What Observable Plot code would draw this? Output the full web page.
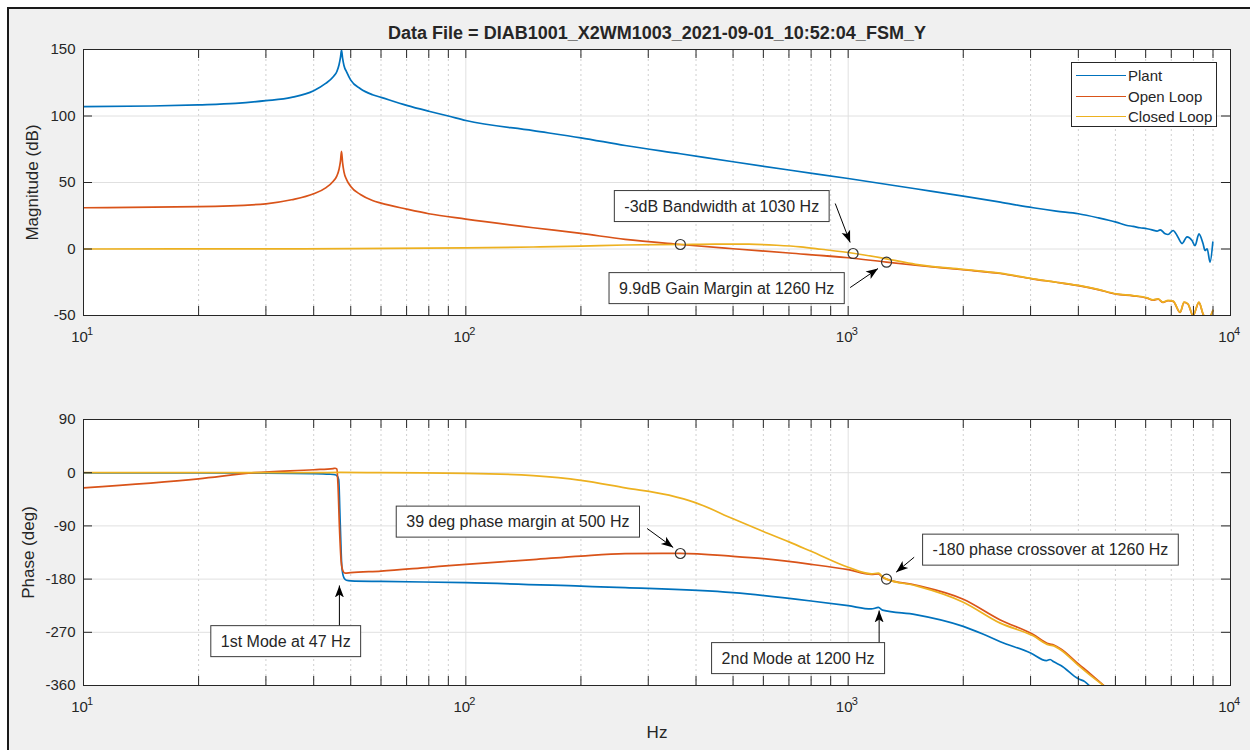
<!DOCTYPE html>
<html><head><meta charset="utf-8">
<script src="https://cdn.jsdelivr.net/npm/d3@7"></script>
<script src="https://cdn.jsdelivr.net/npm/@observablehq/plot@0.6"></script>
<style>
html,body{margin:0;padding:0;background:#fff;}
#fig{position:relative;width:1250px;height:750px;overflow:hidden;background:#fff;font-family:"Liberation Sans",Arial,Helvetica,sans-serif;color:#262626;}
#bg{position:absolute;left:7px;top:7px;width:1260px;height:760px;background:#f0f0f0;border-left:2px solid #1a1a1a;border-top:2px solid #1a1a1a;}
.panel{position:absolute;left:0;width:1250px;height:370px;}
#legend{position:absolute;left:1071px;top:62px;width:144px;height:63px;background:#fff;border:1px solid #262626;font-size:15px;}
#legend .row{position:absolute;left:0;height:20px;width:144px;}
#legend .sw{position:absolute;left:4px;top:9px;width:50px;height:0;border-top:1.5px solid;}
#legend .lab{position:absolute;left:56px;top:1px;line-height:17px;white-space:nowrap;}
</style></head>
<body>
<div id="fig">
  <div id="bg"></div>
  <div id="top" class="panel" style="top:0px"></div>
  <div id="bot" class="panel" style="top:370px"></div>
  <div id="legend"></div>
</div>
<script>
// ---------------- data ----------------
const TITLE = "Data File = DIAB1001_X2WM1003_2021-09-01_10:52:04_FSM_Y";
const seriesNames = ["Plant", "Open Loop", "Closed Loop"];
const seriesColors = ["#0072BD", "#D95319", "#EDB120"];

const decades = [10, 100, 1000, 10000];
const decadeExp = ["1", "2", "3", "4"];
const minorHz = [20,30,40,50,60,70,80,90,200,300,400,500,600,700,800,900,2000,3000,4000,5000,6000,7000,8000,9000];
const magTicks = [-50, 0, 50, 100, 150];
const phaseTicks = [-360, -270, -180, -90, 0, 90];

// Magnitude (dB)
const plantMagHz = [10,15,20,25,30,35,40,43,45,46,46.6,47,47.3,47.6,48,48.8,50,53,57,60,70,80,90,100,150,200,261,364,500,700,1000,1500,2000,2500,3048,3500,4000,4500,5020,5363,5560,5797,6050,6234,6425,6550,6750,6864,7080,7247,7470,7697,7931,8077,8270,8474,8577,8690,8840,8990];
const plantMagDb = [107,107.5,108.4,109.5,111.5,114,119,124.5,129.5,133.5,138.5,144,149.5,143.5,138,133,127,120.5,116,114,108,103.6,100,96.6,89,83.6,77.8,71.6,65.6,59.4,53,45.3,39.8,35.2,31,28.5,26.5,23.5,20.2,17.7,17,16,15.2,14.4,13.4,14.4,11.4,10.9,13.9,10.2,4.1,9.1,6.4,2.6,11.4,4.1,-1.1,0.2,-9.9,5.1];

const openMagHz = [10,20,30,35,40,43,45,46,46.6,47,47.3,47.6,48,48.8,50,53,57,60,70,80,100,150,200,261,364,500,700,1000,1260,1500,2000,2500,3048,3500,4000,4500,5020,5560,6050,6272,6465,6662,6864,7080,7380,7560,7740,7980,8270,8474,8690,8990];
const openMagDb = [31,31.8,34,37,41.5,46,51,55,60,66,73.5,65,58,52,47,41,36.5,34.5,30,26.5,22.5,16,11.7,7.2,3.4,0.2,-3.0,-6.6,-9.9,-12.2,-15.6,-18.4,-22.6,-25,-27.6,-30.5,-33.9,-35.2,-36.9,-38.4,-37.7,-40.2,-38.9,-39.4,-47.7,-40.2,-41.4,-50.2,-40.2,-48.9,-54,-46.4];

const closedMagHz = [10,30,50,100,150,200,261,364,450,550,650,750,850,1030,1260,1500,2000,2500,3048,3500,4000,4500,5020,5560,6050,6272,6465,6662,6864,7080,7380,7560,7740,7980,8270,8474,8690,8990];
const closedMagDb = [0,0.1,0.3,0.8,1.5,2.2,3.0,3.4,3.7,3.6,2.8,1.6,-0.2,-3.2,-7.4,-11.5,-15.3,-18.2,-22.4,-25,-27.4,-30.4,-33.7,-35,-36.7,-38.2,-37.5,-40,-38.7,-39.2,-47.5,-40,-41.2,-50,-40,-48.7,-53.8,-46.2];

// Phase (deg)
const plantPhHz = [10,20,30,40,44,45.5,46.0,46.5,46.9,47.4,48.0,48.7,50,60,100,200,261,500,800,1000,1150,1200,1230,1500,2000,2250,2500,3000,3300,3373,3450,3600,4000,4150,4300];
const plantPhDeg = [-0.5,-0.5,-0.7,-1.5,-2.5,-3.5,-5,-12,-80,-160,-178,-182,-183,-184,-186,-192,-194.5,-203,-217,-225,-230.5,-228,-232.5,-240,-260,-273,-286,-305,-318,-316,-320,-326,-348.7,-353,-362];

const openPhHz = [10,20,28,40,45,45.5,46.0,46.3,46.7,47.2,47.7,48.3,50,60,80,100,150,200,261,364,500,600,800,1000,1150,1200,1230,1260,1500,2000,2500,3048,3350,3450,3600,4000,4300,4700];
const openPhDeg = [-25.6,-10.4,0,5,7,7.5,6,-20,-90,-150,-166,-170,-169,-166.5,-160,-155,-147,-141,-137,-136.5,-141.5,-145.5,-155,-164,-172,-171,-177,-180,-190,-214,-249,-273.7,-289.5,-291.5,-298,-323.4,-340.3,-362];

const closedPhHz = [10,40,47,60,100,150,200,261,340,400,500,600,700,800,1000,1150,1200,1230,1260,1500,2000,2500,3048,3350,3450,3600,4000,4300,4700];
const closedPhDeg = [0,0,0.5,0,-1,-5,-13,-25.6,-38,-51,-78,-99.5,-117,-133,-160,-171,-170,-176,-180,-191,-219,-254.5,-276,-291.5,-293,-300,-326,-343,-362];

// Annotations (data coordinates)
const magNoteText = ["-3dB Bandwidth at 1030 Hz", "9.9dB Gain Margin at 1260 Hz"];
const magNoteHz = [467, 481];
const magNoteDb = [32.0, -29.7];
const magArrowFromHz = [925, 1012], magArrowFromDb = [34.2, -29];
const magArrowToHz = [1012, 1197], magArrowToDb = [4.9, -14.7];
const magMarkHz = [364, 1030, 1260], magMarkDb = [3.4, -3.4, -9.9];

const phNoteText = ["39 deg phase margin at 500 Hz", "-180 phase crossover at 1260 Hz", "1st Mode at 47 Hz", "2nd Mode at 1200 Hz"];
const phNoteHz = [136.8, 3381, 33.8, 739.6];
const phNoteDeg = [-83.4, -130.8, -285.6, -314.3];
const phArrowFromHz = [298, 1488, 46.7, 1205], phArrowFromDeg = [-94.4, -143, -261.9, -289];
const phArrowToHz = [348.6, 1335, 46.7, 1205], phArrowToDeg = [-126.5, -168.3, -190.8, -233.1];
const phMarkHz = [364, 1260], phMarkDeg = [-136.7, -180];

// ---------------- helpers ----------------
const FONT = '"Liberation Sans", Arial, Helvetica, sans-serif';
const W = 1250, H = 370;
const M = {top: 49, bottom: 55, left: 83, right: 20};
const frameH = H - M.top - M.bottom;
const frameW = W - M.left - M.right;
const TICK = 9;
const NS = "http://www.w3.org/2000/svg";

const rows = (hz, v) => hz.map((f, i) => ({f, v: v[i]}));
const notes = (t, hz, v) => t.map((s, i) => ({text: s, f: hz[i], v: v[i]}));
const arrowsOf = (fh, fv, th, tv) => fh.map((d, i) => ({f1: d, v1: fv[i], f2: th[i], v2: tv[i]}));

function headMarker(color, context) {
  const doc = (context && context.document) || document;
  const m = doc.createElementNS(NS, "marker");
  m.setAttribute("viewBox", "-12 -6 13 12");
  m.setAttribute("markerWidth", 13);
  m.setAttribute("markerHeight", 12);
  m.setAttribute("markerUnits", "userSpaceOnUse");
  m.setAttribute("refX", 0);
  m.setAttribute("refY", 0);
  m.setAttribute("orient", "auto");
  const p = doc.createElementNS(NS, "path");
  p.setAttribute("d", "M0,0L-12,-4.5L-9,0L-12,4.5Z");
  p.setAttribute("fill", "#000");
  p.setAttribute("stroke", "none");
  m.appendChild(p);
  return m;
}

function panel({yDomain, yTicks, lines, noteData, arrowData, markData, yLabel, yLabelDx, extra}) {
  const allX = decades.concat(minorHz);
  return Plot.plot({
    width: W, height: H,
    marginTop: M.top, marginBottom: M.bottom, marginLeft: M.left, marginRight: M.right,
    style: {background: "transparent", fontFamily: FONT, fontSize: "15px", color: "#262626", overflow: "visible"},
    x: {type: "log", domain: [10, 10000]},
    y: {domain: yDomain},
    marks: [
      Plot.frame({fill: "#ffffff", stroke: "none"}),
      Plot.ruleX(minorHz, {x: d => d, stroke: "#cfcfcf", strokeDasharray: "2,3"}),
      Plot.ruleX([100, 1000], {x: d => d, stroke: "#e0e0e0"}),
      Plot.ruleY(yTicks.slice(1, -1), {y: d => d, stroke: "#e0e0e0"}),
      ...lines.map((l, i) => Plot.line(l, {x: "f", y: "v", stroke: seriesColors[i], strokeWidth: 1.7, curve: "monotone-x", clip: true})),
      Plot.link(arrowData, {x1: "f1", y1: "v1", x2: "f2", y2: "v2", stroke: "#000", strokeWidth: 1, markerEnd: headMarker}),
      Plot.dot(markData, {x: "f", y: "v", r: 5, stroke: "#333", fill: "none", strokeWidth: 1.2}),
      Plot.text(noteData, {x: "f", y: "v", text: "text", fontSize: 16, fill: "#262626"}),
      Plot.tickX(allX, {x: d => d, insetTop: frameH - TICK, stroke: "#262626"}),
      Plot.tickX(allX, {x: d => d, insetBottom: frameH - TICK, stroke: "#262626"}),
      Plot.tickY(yTicks, {y: d => d, insetRight: frameW - TICK, stroke: "#262626"}),
      Plot.tickY(yTicks, {y: d => d, insetLeft: frameW - TICK, stroke: "#262626"}),
      Plot.frame({stroke: "#262626"}),
      Plot.axisY(yTicks, {tickSize: 0, tickPadding: 8, label: null, tickFormat: d => String(d)}),
      Plot.axisX(decades, {tickSize: 0, tickPadding: 16, label: null, tickFormat: () => "10", dx: -4}),
      Plot.text(decades, {x: d => d, text: (d, i) => decadeExp[i], frameAnchor: "bottom", lineAnchor: "middle", dy: 16, dx: 3.5, textAnchor: "start", fontSize: 11}),
      Plot.text([yLabel], {frameAnchor: "left", dx: yLabelDx, rotate: -90, textAnchor: "middle", lineAnchor: "middle", text: d => d, fontSize: 17}),
      ...extra
    ]
  });
}

function boxify(svg, labels) {
  svg.querySelectorAll("text").forEach(t => {
    if (!labels.includes(t.textContent)) return;
    const bb = t.getBBox();
    const r = document.createElementNS(NS, "rect");
    r.setAttribute("x", bb.x - 10);
    r.setAttribute("y", bb.y - 7);
    r.setAttribute("width", bb.width + 20);
    r.setAttribute("height", bb.height + 14);
    r.setAttribute("fill", "#ffffff");
    r.setAttribute("stroke", "#3a3a3a");
    r.setAttribute("stroke-width", "1");
    const tr = t.getAttribute("transform");
    if (tr) r.setAttribute("transform", tr);
    t.parentNode.insertBefore(r, t);
  });
}

// ---------------- draw ----------------
const topSvg = panel({
  yDomain: [-50, 150], yTicks: magTicks,
  lines: [rows(plantMagHz, plantMagDb), rows(openMagHz, openMagDb), rows(closedMagHz, closedMagDb)],
  noteData: notes(magNoteText, magNoteHz, magNoteDb),
  arrowData: arrowsOf(magArrowFromHz, magArrowFromDb, magArrowToHz, magArrowToDb),
  markData: rows(magMarkHz, magMarkDb),
  yLabel: "Magnitude (dB)", yLabelDx: -51,
  extra: [Plot.text([TITLE], {frameAnchor: "top", lineAnchor: "middle", dy: -16, text: d => d, fontWeight: "bold", fontSize: 18})]
});
document.getElementById("top").appendChild(topSvg);
boxify(topSvg, magNoteText);

const botSvg = panel({
  yDomain: [-360, 90], yTicks: phaseTicks,
  lines: [rows(plantPhHz, plantPhDeg), rows(openPhHz, openPhDeg), rows(closedPhHz, closedPhDeg)],
  noteData: notes(phNoteText, phNoteHz, phNoteDeg),
  arrowData: arrowsOf(phArrowFromHz, phArrowFromDeg, phArrowToHz, phArrowToDeg),
  markData: rows(phMarkHz, phMarkDeg),
  yLabel: "Phase (deg)", yLabelDx: -55,
  extra: [Plot.text(["Hz"], {frameAnchor: "bottom", lineAnchor: "middle", dy: 47, text: d => d, fontSize: 17})]
});
document.getElementById("bot").appendChild(botSvg);
boxify(botSvg, phNoteText);

// legend
const leg = document.getElementById("legend");
seriesNames.forEach((name, i) => {
  const row = document.createElement("div");
  row.className = "row";
  row.style.top = (3 + i * 20.5) + "px";
  row.innerHTML = `<div class="sw" style="border-color:${seriesColors[i]}"></div><div class="lab">${name}</div>`;
  leg.appendChild(row);
});
</script>
</body></html>
